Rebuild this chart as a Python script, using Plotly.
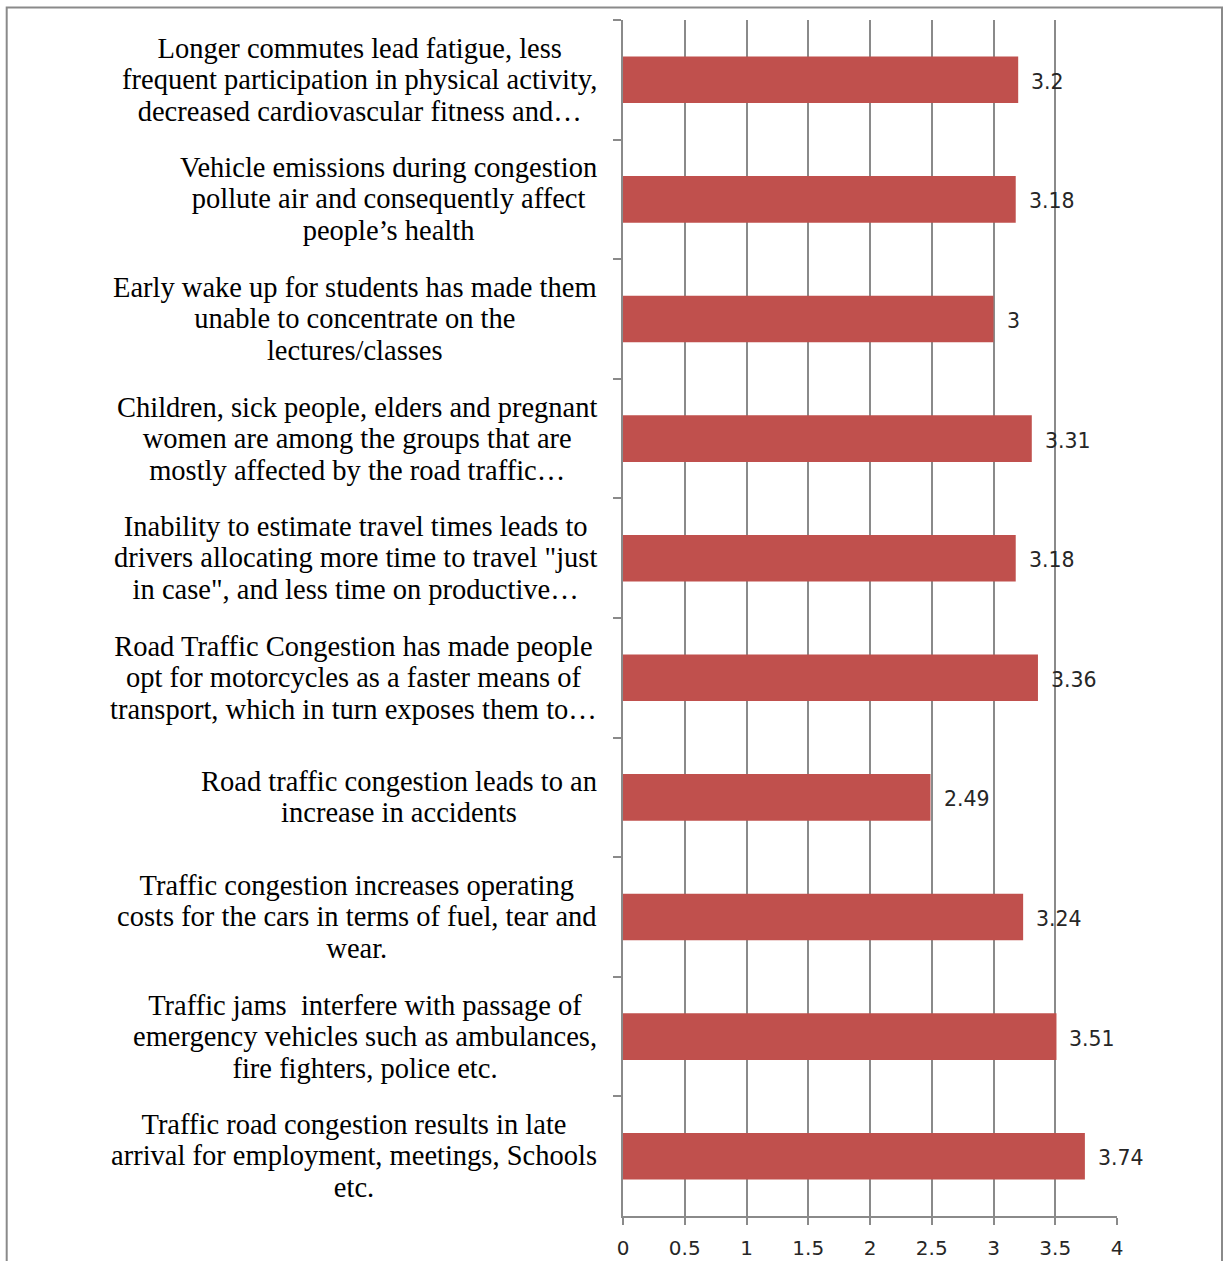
import plotly.graph_objects as go

# Survey statements (top to bottom) and their mean scores
statements = [
    "Longer commutes lead fatigue, less<br>frequent participation in physical activity,<br>decreased cardiovascular fitness and…",
    "Vehicle emissions during congestion<br>pollute air and consequently affect<br>people’s health",
    "Early wake up for students has made them<br>unable to concentrate on the<br>lectures/classes",
    "Children, sick people, elders and pregnant<br>women are among the groups that are<br>mostly affected by the road traffic…",
    "Inability to estimate travel times leads to<br>drivers allocating more time to travel \"just<br>in case\", and less time on productive…",
    "Road Traffic Congestion has made people<br>opt for motorcycles as a faster means of<br>transport, which in turn exposes them to…",
    "Road traffic congestion leads to an<br>increase in accidents",
    "Traffic congestion increases operating<br>costs for the cars in terms of fuel, tear and<br>wear.",
    "Traffic jams  interfere with passage of<br>emergency vehicles such as ambulances,<br>fire fighters, police etc.",
    "Traffic road congestion results in late<br>arrival for employment, meetings, Schools<br>etc.",
]
scores = [3.2, 3.18, 3, 3.31, 3.18, 3.36, 2.49, 3.24, 3.51, 3.74]
x_ticks = [0, 0.5, 1, 1.5, 2, 2.5, 3, 3.5, 4]

cat_ids = [f"s{i}" for i in range(len(statements))]

BAR = "#C0504D"
GRID = "#8a8a8a"
W, H = 1225, 1261
L, R, T, B = 623, 108, 20, 45

fig = go.Figure(
    go.Bar(
        x=scores,
        y=cat_ids,
        orientation="h",
        marker=dict(color=BAR, line=dict(width=0)),
        width=0.39,
        hoverinfo="skip",
    )
)

annotations = []
# Category labels: serif, centred lines, block right-aligned against the axis
for cid, text in zip(cat_ids, statements):
    lines = text.split("<br>")
    styled = "<br>".join(
        f'<span style="font-size:28.5px">{ln}</span>' for ln in lines
    )
    annotations.append(
        dict(
            xref="paper", x=0, yref="y", y=cid,
            xanchor="right", yanchor="middle", xshift=-24,
            text=styled, showarrow=False, align="center",
            font=dict(family="Liberation Serif", size=24.2, color="#000000"),
        )
    )
# Value labels beside each bar
for cid, v in zip(cat_ids, scores):
    annotations.append(
        dict(
            xref="x", x=v, yref="y", y=cid,
            xanchor="left", yanchor="middle", xshift=11, yshift=-2,
            text=f"{v:g}", showarrow=False,
            font=dict(family="DejaVu Sans", size=20.5, color="#262626"),
        )
    )

fig.update_layout(
    width=W, height=H,
    margin=dict(l=L, r=R, t=T, b=B, pad=0, autoexpand=False),
    paper_bgcolor="white", plot_bgcolor="white",
    showlegend=False,
    annotations=annotations,
    shapes=[
        dict(
            type="rect", xref="paper", yref="paper",
            x0=(6.7 - L) / (W - L - R), x1=(1222 - L) / (W - L - R),
            y0=-0.1, y1=(H - B - 7.5) / (H - T - B),
            line=dict(color=GRID, width=2), fillcolor="rgba(0,0,0,0)",
            layer="below",
        )
    ],
)

fig.update_xaxes(
    range=[0, 4], tickvals=x_ticks, ticktext=[f"{t:g}" for t in x_ticks],
    showgrid=True, gridcolor=GRID, gridwidth=2,
    showline=True, linecolor=GRID, linewidth=2,
    ticks="outside", ticklen=7, tickwidth=2, tickcolor=GRID,
    ticklabelstandoff=6, automargin=False,
    zeroline=False,
    tickfont=dict(family="DejaVu Sans", size=20, color="#262626"),
)
fig.update_yaxes(
    type="category", categoryorder="array", categoryarray=cat_ids,
    autorange="reversed", automargin=False,
    showticklabels=False, showgrid=False, zeroline=False,
    showline=True, linecolor=GRID, linewidth=2,
    ticks="outside", tickson="boundaries", ticklen=8, tickwidth=2,
    tickcolor=GRID,
)

fig.write_html("out.html")
